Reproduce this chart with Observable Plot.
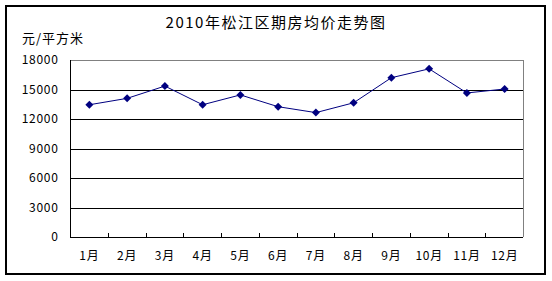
<!DOCTYPE html>
<html><head><meta charset="utf-8">
<script src="https://cdn.jsdelivr.net/npm/d3@7"></script>
<script src="https://cdn.jsdelivr.net/npm/@observablehq/plot@0.6"></script>
<style>
html,body{margin:0;padding:0;background:#fff;}
#wrap{position:relative;width:552px;height:281px;overflow:hidden;font-family:"Noto Sans CJK SC",sans-serif;}
#border{position:absolute;left:5px;top:5px;width:537px;height:266px;border:2px solid #000;pointer-events:none;}
#title{position:absolute;left:0;width:552px;top:11px;text-align:center;font-size:15px;letter-spacing:1.5px;color:#000;line-height:22px;}
#unit{position:absolute;left:22px;top:29px;font-size:13px;letter-spacing:1px;color:#000;line-height:18px;}
svg text{letter-spacing:0.7px;}
</style></head>
<body><div id="wrap"><div id="title">2010年松江区期房均价走势图</div><div id="unit">元/平方米</div><div id="border"></div></div>
<script>
const months = ["1月","2月","3月","4月","5月","6月","7月","8月","9月","10月","11月","12月"];
const prices = [13500, 14150, 15400, 13500, 14500, 13300, 12700, 13700, 16250, 17150, 14700, 15100];
const yTicks = [0, 3000, 6000, 9000, 12000, 15000, 18000];
const data = months.map((m, i) => ({idx: i + 1, month: m, price: prices[i]}));
const bounds = months.slice(1).map((m, i) => i + 1.5);
const font = '"Noto Sans CJK SC", sans-serif';
const crisp = {shapeRendering: "crispEdges"};
const chart = Plot.plot({
  width: 552, height: 281,
  marginLeft: 70, marginRight: 29, marginTop: 60, marginBottom: 44,
  style: {fontFamily: font, fontSize: "12px", background: "transparent", color: "#000"},
  x: {domain: [0.5, 12.5], axis: null, label: null},
  y: {domain: [0, 18000], axis: null, label: null},
  marks: [
    Plot.ruleY(yTicks.filter(d => d > 0 && d < 18000), {stroke: "#000", strokeWidth: 1, ...crisp}),
    Plot.ruleY([18000], {stroke: "#808080", strokeWidth: 1, ...crisp}),
    Plot.ruleX([12.5], {stroke: "#808080", strokeWidth: 1, ...crisp}),
    Plot.ruleX([0.5], {stroke: "#000", strokeWidth: 1, ...crisp}),
    Plot.ruleY([0], {stroke: "#000", strokeWidth: 1, ...crisp}),
    Plot.axisX({ticks: bounds, tickSize: -4, tickFormat: () => "", anchor: "bottom", stroke: "#000", strokeOpacity: 1, label: null, ...crisp}),
    Plot.axisX({ticks: data.map(d => d.idx), tickSize: 0, tickPadding: 14, tickFormat: i => months[i - 1], anchor: "bottom", fontSize: 12, fill: "#000", label: null}),
    Plot.axisY({ticks: yTicks, tickSize: 0, tickPadding: 12, tickFormat: d3.format("d"), anchor: "left", fontSize: 12, fill: "#000", label: null}),
    Plot.line(data, {x: "idx", y: "price", stroke: "#000080", strokeWidth: 1}),
    Plot.dot(data, {x: "idx", y: "price", symbol: "diamond2", r: 3.6, fill: "#000080", stroke: "none"})
  ]
});
chart.style.position = "absolute";
chart.style.left = "0";
chart.style.top = "0";
document.getElementById("wrap").prepend(chart);
</script>
</body></html>
